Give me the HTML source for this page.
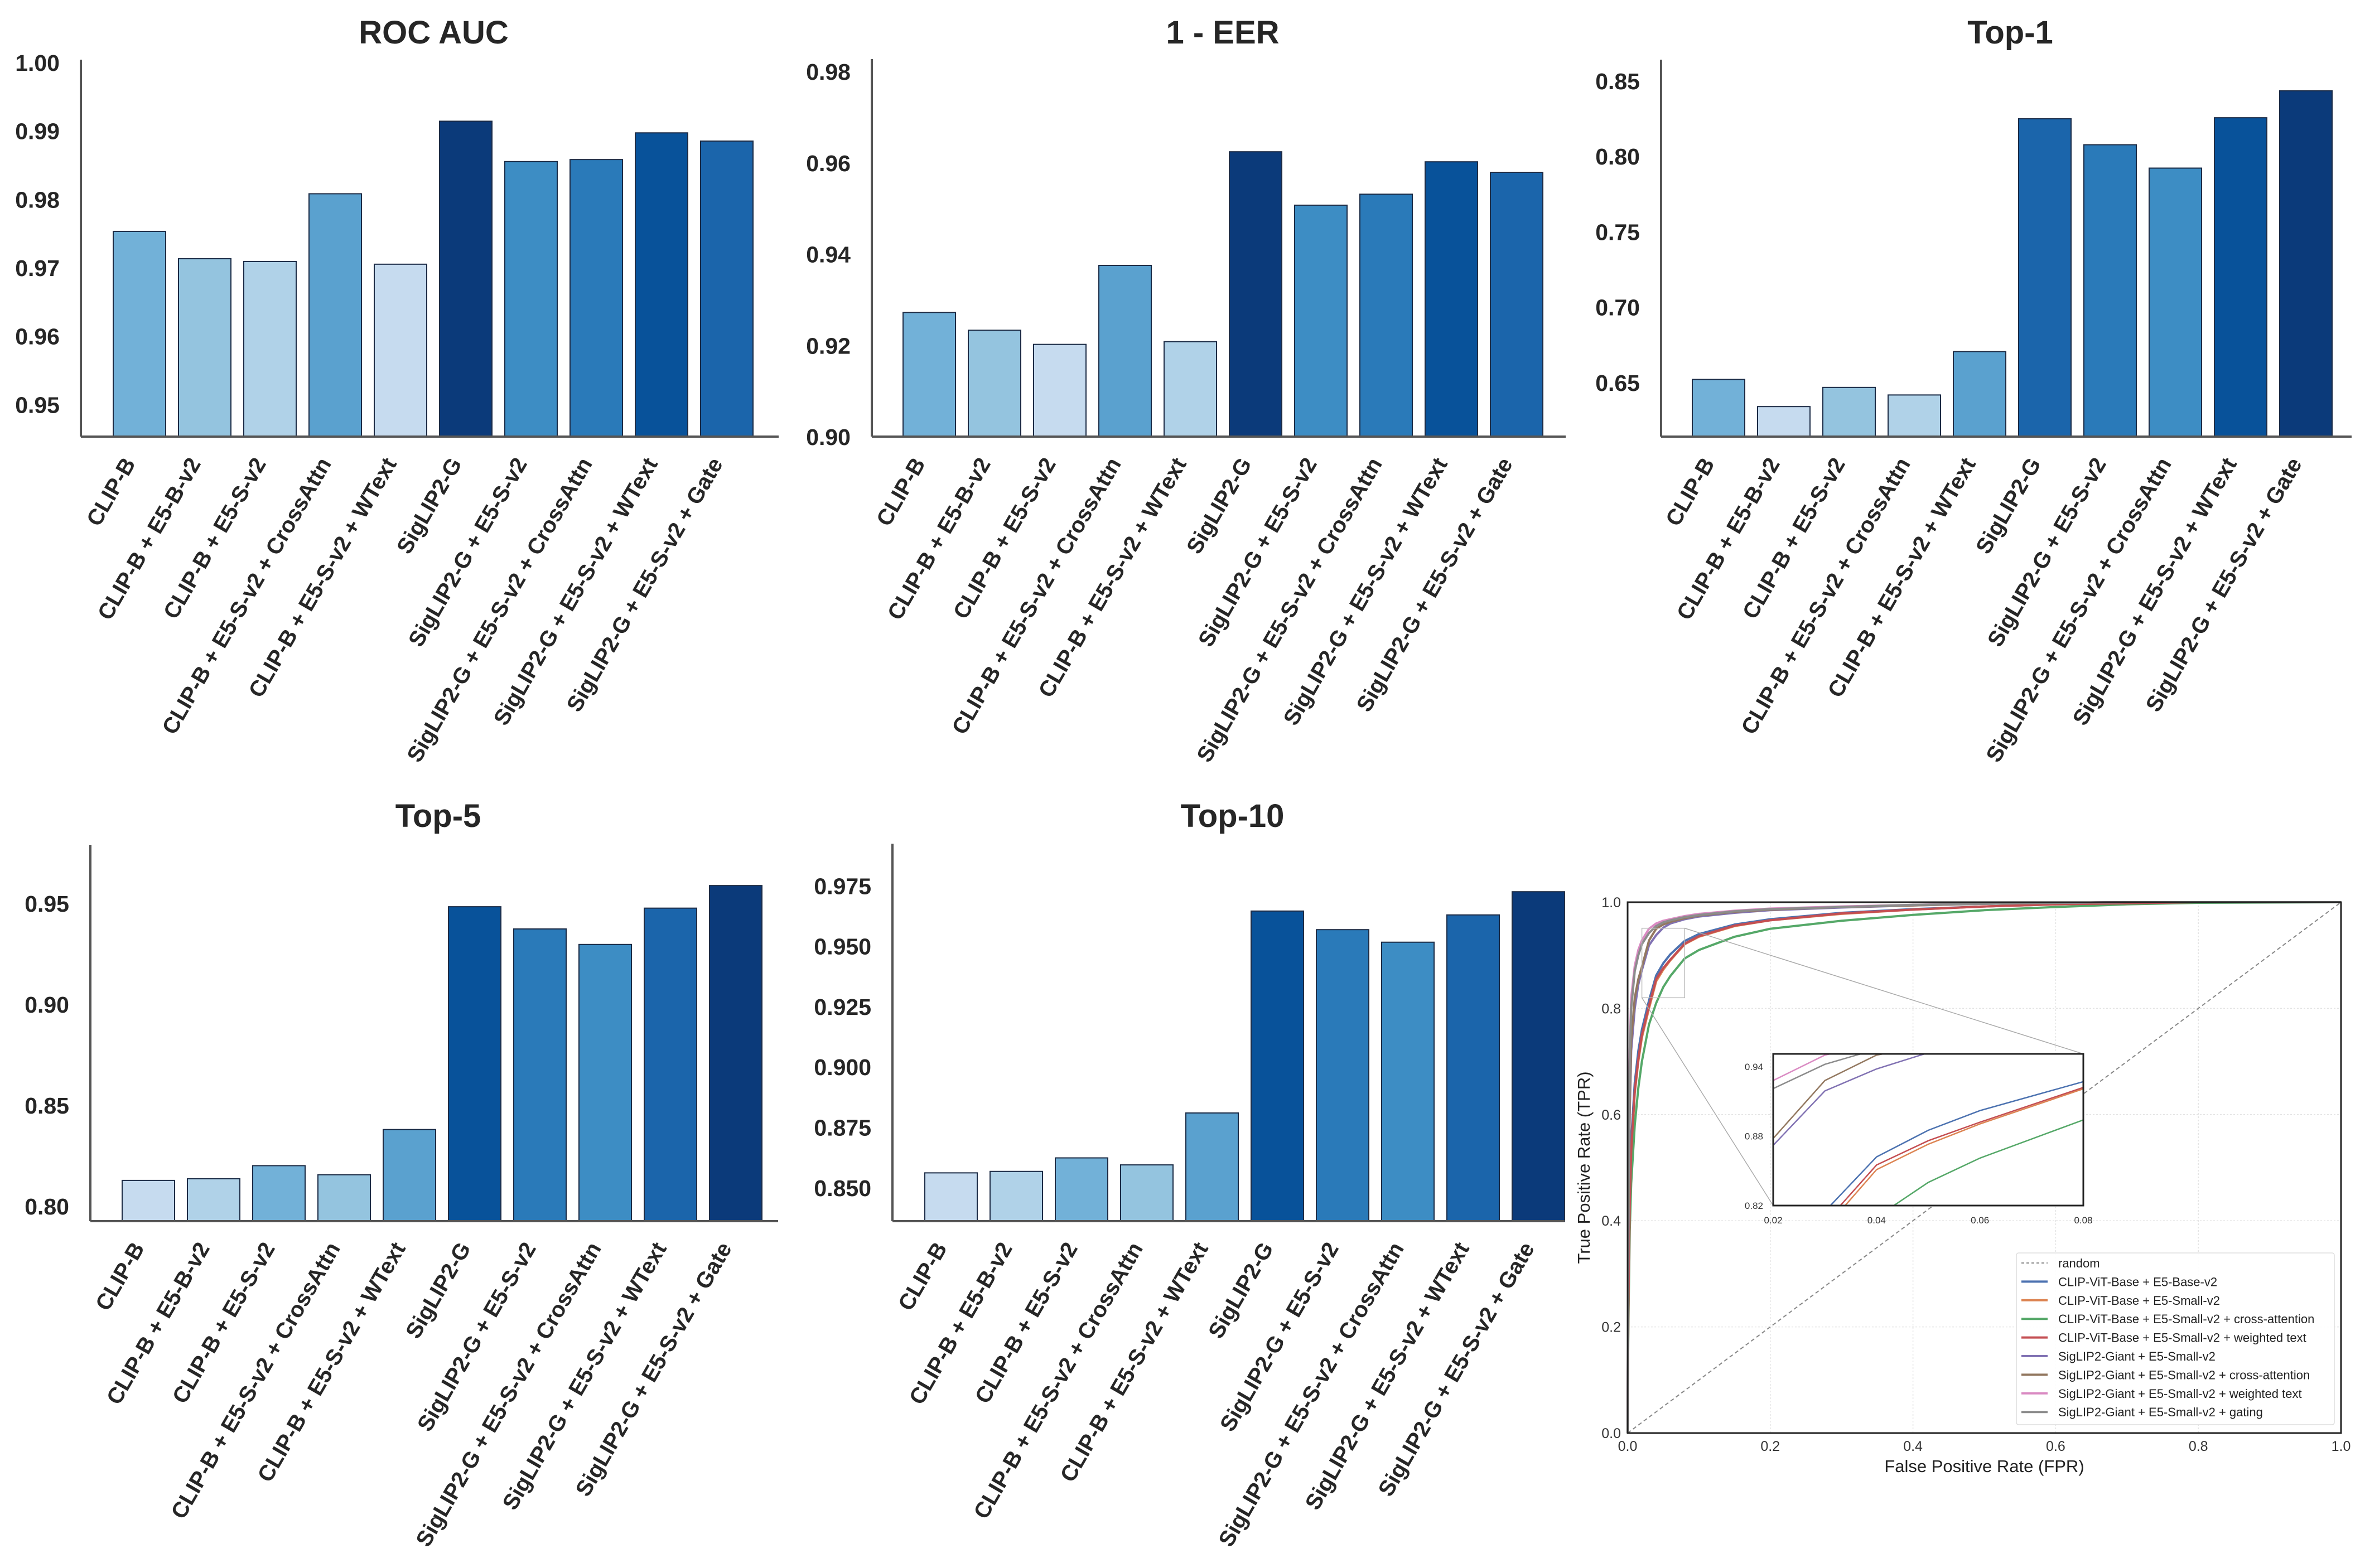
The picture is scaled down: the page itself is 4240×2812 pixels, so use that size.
<!DOCTYPE html>
<html><head><meta charset="utf-8">
<style>
html,body{margin:0;padding:0;background:#fff;width:4240px;height:2812px;overflow:hidden;}
svg{display:block;font-family:"Liberation Sans",Arial,sans-serif;}
</style></head>
<body>
<svg id="fig" width="4240" height="2812" viewBox="0 0 4240 2812" xmlns="http://www.w3.org/2000/svg">
<rect width="4240" height="2812" fill="#fff"/>
</svg>
<script>
const categories = ["CLIP-B","CLIP-B + E5-B-v2","CLIP-B + E5-S-v2","CLIP-B + E5-S-v2 + CrossAttn","CLIP-B + E5-S-v2 + WText","SigLIP2-G","SigLIP2-G + E5-S-v2","SigLIP2-G + E5-S-v2 + CrossAttn","SigLIP2-G + E5-S-v2 + WText","SigLIP2-G + E5-S-v2 + Gate"];
const rocAuc = [0.9753,0.9713,0.9709,0.9808,0.9705,0.9914,0.9855,0.9858,0.9897,0.9885];
const oneMinusEer = [0.9272,0.9233,0.9202,0.9375,0.9208,0.9624,0.9507,0.9531,0.9602,0.9579];
const top1 = [0.652,0.634,0.6467,0.6417,0.6705,0.8248,0.8076,0.7921,0.8255,0.8434];
const top5 = [0.8127,0.8135,0.8200,0.8155,0.8379,0.9483,0.9373,0.9296,0.9476,0.9588];
const top10 = [0.8561,0.8567,0.8623,0.8594,0.8809,0.9645,0.9568,0.9516,0.9629,0.9725];
const ticksRoc = ["0.95","0.96","0.97","0.98","0.99","1.00"];
const ticksEer = ["0.90","0.92","0.94","0.96","0.98"];
const ticksTop1 = ["0.65","0.70","0.75","0.80","0.85"];
const ticksTop5 = ["0.80","0.85","0.90","0.95"];
const ticksTop10 = ["0.850","0.875","0.900","0.925","0.950","0.975"];

const rocFpr = [0,0.001,0.003,0.005,0.01,0.015,0.02,0.03,0.04,0.05,0.06,0.08,0.1,0.15,0.2,0.3,0.4,0.5,0.6,0.7,0.8,1.0];
const tprClipBaseE5Base = [0,0.25,0.45,0.55,0.66,0.72,0.76,0.815,0.862,0.885,0.902,0.927,0.94,0.958,0.968,0.98,0.987,0.992,0.996,0.998,1,1];
const tprClipBaseE5Small = [0,0.22,0.42,0.52,0.64,0.70,0.745,0.80,0.851,0.873,0.8905,0.9208,0.935,0.955,0.966,0.978,0.986,0.992,0.996,0.998,1,1];
const tprClipCrossAttn = [0,0.2,0.38,0.47,0.58,0.65,0.70,0.77,0.81,0.84,0.861,0.894,0.91,0.935,0.95,0.965,0.976,0.985,0.991,0.996,0.999,1];
const tprClipWeighted = [0,0.23,0.43,0.53,0.645,0.705,0.75,0.805,0.855,0.876,0.892,0.922,0.936,0.956,0.966,0.979,0.986,0.992,0.996,0.998,1,1];
const tprSigE5Small = [0,0.35,0.6,0.72,0.8,0.845,0.872,0.919,0.938,0.952,0.96,0.968,0.973,0.98,0.985,0.99,0.994,0.997,0.999,1,1,1];
const tprSigCrossAttn = [0,0.36,0.62,0.74,0.82,0.855,0.878,0.928,0.95,0.958,0.963,0.97,0.975,0.982,0.986,0.991,0.994,0.997,0.999,1,1,1];
const tprSigWeighted = [0,0.45,0.72,0.82,0.88,0.91,0.928,0.95,0.96,0.965,0.968,0.974,0.978,0.984,0.988,0.992,0.995,0.998,0.999,1,1,1];
const tprSigGating = [0,0.42,0.70,0.80,0.87,0.90,0.921,0.942,0.955,0.962,0.966,0.972,0.976,0.983,0.987,0.991,0.995,0.997,0.999,1,1,1];
const rocLabels = ["CLIP-ViT-Base + E5-Base-v2","CLIP-ViT-Base + E5-Small-v2","CLIP-ViT-Base + E5-Small-v2 + cross-attention","CLIP-ViT-Base + E5-Small-v2 + weighted text","SigLIP2-Giant + E5-Small-v2","SigLIP2-Giant + E5-Small-v2 + cross-attention","SigLIP2-Giant + E5-Small-v2 + weighted text","SigLIP2-Giant + E5-Small-v2 + gating"];
const rocAxisTicks = ["0.0","0.2","0.4","0.6","0.8","1.0"];
const insetXTicks = ["0.02","0.04","0.06","0.08"];
const insetYTicks = ["0.82","0.88","0.94"];

const NS = "http://www.w3.org/2000/svg";
const svg = document.getElementById('fig');
function mk(tag, attrs, parent){
  const e = document.createElementNS(NS, tag);
  for (const k in attrs) e.setAttribute(k, attrs[k]);
  (parent||svg).appendChild(e);
  return e;
}
const palette = ["#c6dbef","#b0d2e8","#94c4df","#72b1d8","#5aa1cf","#3d8dc4","#2a7ab9","#1b65ab","#08529a","#0b3a7a"];

function barPanel(name, title, values, ticks, ax){
  const g = mk('g', {});
  
  
  const yScale = v => ax.bottom - (v - ax.ymin) / (ax.ymax - ax.ymin) * (ax.bottom - ax.top);
  const xCenter = i => ax.x + ax.off + i * 117;
  const t = mk('text', {x: (ax.x + ax.right)/2 + 7, y: ax.titleY, 'font-size': 58, 'font-weight': 'bold', 'text-anchor': 'middle', fill: '#262626'}, g);
  t.textContent = title;
  
  
  ticks.forEach(tk => {
    const lab = mk('text', {x: ax.x - 38, y: yScale(parseFloat(tk)) + 15, 'font-size': 41, 'font-weight': 'bold', 'text-anchor': 'end', fill: '#262626'}, g);
    lab.textContent = tk;
    
    
  });
  const ranks = values.map((v,i)=>i).sort((a,b)=>values[a]-values[b]);
  values.forEach((v,i) => {
    const r = ranks.indexOf(i);
    const y = yScale(v);
    const b = mk('rect', {x: xCenter(i) - 47, y: y, width: 94, height: ax.bottom - y, fill: palette[r], stroke: '#1c2b45', 'stroke-width': 2}, g);
    
    
    const cx = xCenter(i) - 6, cy = ax.bottom + 48;
    const lab = mk('text', {x: 0, y: 0, transform: `translate(${cx},${cy}) rotate(-60)`, 'font-size': 40, 'font-weight': 'bold', 'text-anchor': 'end', fill: '#262626'}, g);
    lab.textContent = categories[i];
    
    
  });
  const ya = mk('line', {x1: ax.x, y1: ax.top, x2: ax.x, y2: ax.bottom, stroke: '#555', 'stroke-width': 4}, g);
  
  
  const xa = mk('line', {x1: ax.x, y1: ax.bottom, x2: ax.right, y2: ax.bottom, stroke: '#555', 'stroke-width': 4}, g);
  
  
}

barPanel('roc-auc-chart', 'ROC AUC', rocAuc, ticksRoc, {x:145, right:1396, top:107, bottom:783, ymin:0.9453, ymax:1.0004, off:105, titleY:78});
barPanel('eer-chart', '1 - EER', oneMinusEer, ticksEer, {x:1563, right:2807, top:106, bottom:783, ymin:0.90, ymax:0.9827, off:103, titleY:78});
barPanel('top1-chart', 'Top-1', top1, ticksTop1, {x:2978, right:4216, top:107, bottom:783, ymin:0.6141, ymax:0.864, off:103, titleY:78});
barPanel('top5-chart', 'Top-5', top5, ticksTop5, {x:162, right:1395, top:1515, bottom:2190, ymin:0.7925, ymax:0.979, off:104, titleY:1483});
barPanel('top10-chart', 'Top-10', top10, ticksTop10, {x:1600, right:2805, top:1513, bottom:2190, ymin:0.8361, ymax:0.9924, off:105, titleY:1483});

(function(){
  const g = mk('g', {});
  
  
  const L = 2918, R = 4197, T = 1618, B = 2570;
  const xs = v => L + v * (R - L);
  const ys = v => B - v * (B - T);
  const series = [tprClipBaseE5Base, tprClipBaseE5Small, tprClipCrossAttn, tprClipWeighted, tprSigE5Small, tprSigCrossAttn, tprSigWeighted, tprSigGating];
  const colors = ["#4c72b0","#dd8452","#55a868","#c44e52","#8172b3","#937860","#da8bc3","#8c8c8c"];
  rocAxisTicks.forEach(tk => {
    const v = parseFloat(tk);
    mk('line', {x1: xs(v), y1: T, x2: xs(v), y2: B, stroke: '#e3e3e3', 'stroke-width': 1.5, 'stroke-dasharray': '3 3'}, g);
    mk('line', {x1: L, y1: ys(v), x2: R, y2: ys(v), stroke: '#e3e3e3', 'stroke-width': 1.5, 'stroke-dasharray': '3 3'}, g);
    const xl = mk('text', {x: xs(v), y: B + 32, 'font-size': 25, 'text-anchor': 'middle', fill: '#333'}, g);
    xl.textContent = tk;
    
    
    const yl = mk('text', {x: L - 12, y: ys(v) + 9, 'font-size': 25, 'text-anchor': 'end', fill: '#333'}, g);
    yl.textContent = tk;
    
    
  });
  const diag = mk('line', {x1: xs(0), y1: ys(0), x2: xs(1), y2: ys(1), stroke: '#888', 'stroke-width': 2, 'stroke-dasharray': '7 5'}, g);
  
  
  function pathFor(arr, xf, yf){
    return arr.map((v,i) => (i ? 'L' : 'M') + xf(rocFpr[i]).toFixed(1) + ',' + yf(v).toFixed(1)).join(' ');
  }
  series.forEach((s,k) => {
    const p = mk('path', {d: pathFor(s, xs, ys), fill: 'none', stroke: colors[k], 'stroke-width': 4, 'stroke-linejoin': 'round'}, g);
    
    
  });
  const zx0 = 0.02, zx1 = 0.08, zy0 = 0.82, zy1 = 0.951;
  const IL = 3179, IR = 3735, IT = 1890, IB = 2162;
  mk('rect', {x: xs(zx0), y: ys(zy1), width: xs(zx1) - xs(zx0), height: ys(zy0) - ys(zy1), fill: 'none', stroke: '#bbb', 'stroke-width': 1.5}, g);
  mk('line', {x1: xs(zx1), y1: ys(zy1), x2: IR, y2: IT, stroke: '#aaa', 'stroke-width': 1.5}, g);
  mk('line', {x1: xs(zx0), y1: ys(zy0), x2: IL, y2: IB, stroke: '#aaa', 'stroke-width': 1.5}, g);
  const frame = mk('rect', {x: L, y: T, width: R - L, height: B - T, fill: 'none', stroke: '#222', 'stroke-width': 3}, g);
  
  
  const ig = mk('g', {}, g);
  
  
  mk('rect', {x: IL, y: IT, width: IR - IL, height: IB - IT, fill: '#fff'}, ig);
  const clip = mk('clipPath', {id: 'insetClip'}, ig);
  mk('rect', {x: IL, y: IT, width: IR - IL, height: IB - IT}, clip);
  const ixs = v => IL + (v - zx0) / (zx1 - zx0) * (IR - IL);
  const iys = v => IB - (v - zy0) / (zy1 - zy0) * (IB - IT);
  const cg = mk('g', {'clip-path': 'url(#insetClip)'}, ig);
  series.forEach((s,k) => {
    const p = mk('path', {d: pathFor(s, ixs, iys), fill: 'none', stroke: colors[k], 'stroke-width': 2.5}, cg);
    
    
  });
  mk('rect', {x: IL, y: IT, width: IR - IL, height: IB - IT, fill: 'none', stroke: '#222', 'stroke-width': 3}, ig);
  insetXTicks.forEach(tk => {
    const t = mk('text', {x: ixs(parseFloat(tk)), y: IB + 32, 'font-size': 17, 'text-anchor': 'middle', fill: '#333'}, ig);
    t.textContent = tk;
  });
  insetYTicks.forEach(tk => {
    const t = mk('text', {x: IL - 18, y: iys(parseFloat(tk)) + 6, 'font-size': 17, 'text-anchor': 'end', fill: '#333'}, ig);
    t.textContent = tk;
  });
  const xt = mk('text', {x: (L + R)/2, y: B + 70, 'font-size': 31, 'text-anchor': 'middle', fill: '#222'}, g);
  xt.textContent = 'False Positive Rate (FPR)';
  
  
  const yt = mk('text', {x: 0, y: 0, transform: `translate(2850,${(T+B)/2}) rotate(-90)`, 'font-size': 31, 'text-anchor': 'middle', fill: '#222'}, g);
  yt.textContent = 'True Positive Rate (TPR)';
  
  
  const lg = mk('g', {}, g);
  
  
  mk('rect', {x: 3615, y: 2247, width: 570, height: 308, rx: 4, fill: '#fff', 'fill-opacity': 0.9, stroke: '#ddd', 'stroke-width': 1.5}, lg);
  const entries = ['random'].concat(rocLabels);
  entries.forEach((lab, i) => {
    const y = 2265 + i * 33.4;
    mk('line', {x1: 3624, y1: y, x2: 3671, y2: y, stroke: i === 0 ? '#888' : colors[i-1], 'stroke-width': i === 0 ? 2 : 4, 'stroke-dasharray': i === 0 ? '5 4' : 'none'}, lg);
    const t = mk('text', {x: 3690, y: y + 8, 'font-size': 22, fill: '#222'}, lg);
    t.textContent = lab;
    
    
  });
})();
</script>
</body></html>
